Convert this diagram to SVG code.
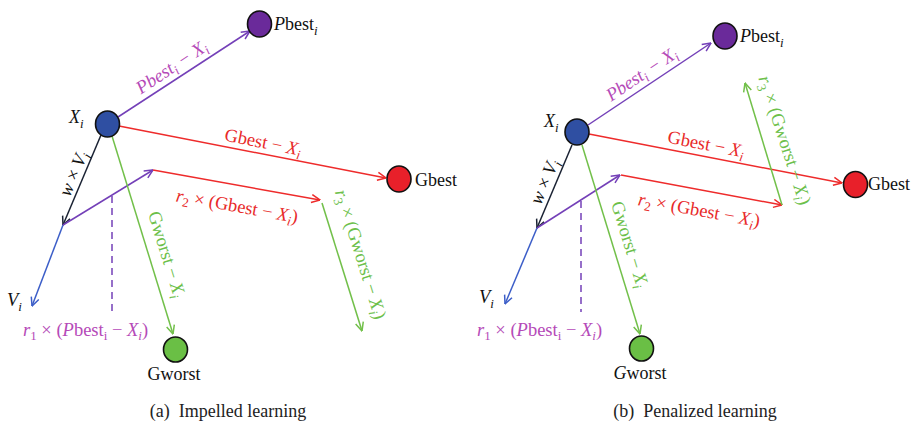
<svg xmlns="http://www.w3.org/2000/svg" width="912" height="425" viewBox="0 0 912 425">
<style>
text{font-family:"Liberation Serif","Times New Roman",serif;font-size:18px;fill:#111}
.it{font-style:italic}
.lbl{font-size:18.5px}
.pl{fill:#b54ab8}
.rd{fill:#e82a2a}
.gn{fill:#6cc04a}
.cap{font-size:18px;fill:#222}
.node{stroke:#111;stroke-width:1.6}
.c{fill:none;stroke-width:1.5}
.cp{stroke:#7440b8}
.cr{stroke:#ee2b2b}
.cg{stroke:#72c04a}
.cb{stroke:#3c5ec8}
.ck{stroke:#1a2233}
.dash{stroke-dasharray:7,5}
</style>
<defs>
<marker id="ap" viewBox="0 0 10 10" refX="9.5" refY="5" markerWidth="10" markerHeight="10" markerUnits="userSpaceOnUse" orient="auto"><path d="M1,1 L9.5,5 L1,9" fill="none" stroke="#7440b8" stroke-width="1.5"/></marker>
<marker id="ar" viewBox="0 0 10 10" refX="9.5" refY="5" markerWidth="10" markerHeight="10" markerUnits="userSpaceOnUse" orient="auto"><path d="M1,1 L9.5,5 L1,9" fill="none" stroke="#ee2b2b" stroke-width="1.5"/></marker>
<marker id="ag" viewBox="0 0 10 10" refX="9.5" refY="5" markerWidth="10" markerHeight="10" markerUnits="userSpaceOnUse" orient="auto"><path d="M1,1 L9.5,5 L1,9" fill="none" stroke="#72c04a" stroke-width="1.5"/></marker>
<marker id="ab" viewBox="0 0 10 10" refX="9.5" refY="5" markerWidth="10" markerHeight="10" markerUnits="userSpaceOnUse" orient="auto"><path d="M1,1 L9.5,5 L1,9" fill="none" stroke="#3c5ec8" stroke-width="1.5"/></marker>
<marker id="ak" viewBox="0 0 10 10" refX="9.5" refY="5" markerWidth="10" markerHeight="10" markerUnits="userSpaceOnUse" orient="auto"><path d="M1,1 L9.5,5 L1,9" fill="none" stroke="#1a2233" stroke-width="1.5"/></marker>
</defs>

<g id="connectors">
  <!-- panel (a) -->
  <line class="c cp" x1="118" y1="117" x2="250" y2="31" marker-end="url(#ap)"/>
  <line class="c cr" x1="119" y1="126" x2="386" y2="178" marker-end="url(#ar)"/>
  <line class="c ck" x1="101" y1="135" x2="63" y2="225" marker-end="url(#ak)"/>
  <line class="c cb" x1="63" y1="225" x2="32" y2="306" marker-end="url(#ab)"/>
  <line class="c cp" x1="63" y1="225" x2="153" y2="170" marker-end="url(#ap)"/>
  <line class="c cr" x1="153" y1="170" x2="320" y2="200" marker-end="url(#ar)"/>
  <line class="c cg" x1="322" y1="203" x2="362" y2="331" marker-end="url(#ag)"/>
  <line class="c cg" x1="112" y1="136" x2="173" y2="334" marker-end="url(#ag)"/>
  <line class="c cp dash" x1="112" y1="196" x2="112" y2="312"/>
  <!-- panel (b) -->
  <line class="c cp" x1="588" y1="125" x2="711" y2="43" marker-end="url(#ap)"/>
  <line class="c cr" x1="589" y1="134" x2="842" y2="183" marker-end="url(#ar)"/>
  <line class="c ck" x1="572" y1="145" x2="537" y2="228" marker-end="url(#ak)"/>
  <line class="c cb" x1="537" y1="228" x2="505" y2="304" marker-end="url(#ab)"/>
  <line class="c cp" x1="537" y1="228" x2="620" y2="175" marker-end="url(#ap)"/>
  <line class="c cr" x1="621" y1="175" x2="782" y2="205" marker-end="url(#ar)"/>
  <line class="c cg" x1="782" y1="205" x2="745" y2="83" marker-end="url(#ag)"/>
  <line class="c cg" x1="582" y1="145" x2="640" y2="334" marker-end="url(#ag)"/>
  <line class="c cp dash" x1="581" y1="201" x2="581" y2="312"/>
</g>

<g id="labels">
  <!-- panel (a) -->
  <text class="lbl pl it" text-anchor="middle" transform="translate(175,72) rotate(-33.6)">Pbest<tspan dy="4" font-size="13">i</tspan><tspan dy="-4"> − X</tspan><tspan dy="4" font-size="13">i</tspan></text>
  <text class="lbl rd" text-anchor="middle" transform="translate(262,148) rotate(11.2)">Gbest − <tspan class="it">X</tspan><tspan class="it" dy="4" font-size="13">i</tspan></text>
  <text class="lbl rd" text-anchor="middle" transform="translate(236,212) rotate(10.1)"><tspan class="it">r</tspan><tspan dy="4" font-size="13">2</tspan><tspan dy="-4"> × (Gbest − </tspan><tspan class="it">X</tspan><tspan class="it" dy="4" font-size="13">i</tspan><tspan dy="-4">)</tspan></text>
  <text class="lbl" text-anchor="middle" transform="translate(79,176) rotate(-67)"><tspan class="it">w</tspan> × <tspan class="it">V</tspan><tspan class="it" dy="4" font-size="13">i</tspan></text>
  <text class="lbl gn" text-anchor="middle" transform="translate(161,256) rotate(72.9)">Gworst − <tspan class="it">X</tspan><tspan class="it" dy="4" font-size="13">i</tspan></text>
  <text class="lbl gn" text-anchor="middle" transform="translate(355,256) rotate(72.6)"><tspan class="it">r</tspan><tspan dy="4" font-size="13">3</tspan><tspan dy="-4"> × (Gworst − </tspan><tspan class="it">X</tspan><tspan class="it" dy="4" font-size="13">i</tspan><tspan dy="-4">)</tspan></text>
  <text class="lbl pl" x="23" y="336"><tspan class="it">r</tspan><tspan dy="4" font-size="13">1</tspan><tspan dy="-4"> × (</tspan><tspan class="it">P</tspan>best<tspan dy="4" font-size="13">i</tspan><tspan dy="-4"> − </tspan><tspan class="it">X</tspan><tspan class="it" dy="4" font-size="13">i</tspan><tspan dy="-4">)</tspan></text>
  <text class="lbl it" x="7" y="306">V<tspan dy="5" font-size="13">i</tspan></text>
  <!-- panel (b) -->
  <text class="lbl pl it" text-anchor="middle" transform="translate(645,79) rotate(-33.9)">Pbest<tspan dy="4" font-size="13">i</tspan><tspan dy="-4"> − X</tspan><tspan dy="4" font-size="13">i</tspan></text>
  <text class="lbl rd" text-anchor="middle" transform="translate(705,150) rotate(11)">Gbest − <tspan class="it">X</tspan><tspan class="it" dy="4" font-size="13">i</tspan></text>
  <text class="lbl rd" text-anchor="middle" transform="translate(698,216) rotate(10.2)"><tspan class="it">r</tspan><tspan dy="4" font-size="13">2</tspan><tspan dy="-4"> × (Gbest − </tspan><tspan class="it">X</tspan><tspan class="it" dy="4" font-size="13">i</tspan><tspan dy="-4">)</tspan></text>
  <text class="lbl" text-anchor="middle" transform="translate(550,184) rotate(-67)"><tspan class="it">w</tspan> × <tspan class="it">V</tspan><tspan class="it" dy="4" font-size="13">i</tspan></text>
  <text class="lbl gn" text-anchor="middle" transform="translate(624,246) rotate(73)">Gworst − <tspan class="it">X</tspan><tspan class="it" dy="4" font-size="13">i</tspan></text>
  <text class="lbl gn" text-anchor="middle" transform="translate(779,142) rotate(72)"><tspan class="it">r</tspan><tspan dy="4" font-size="13">3</tspan><tspan dy="-4"> × (Gworst − </tspan><tspan class="it">X</tspan><tspan class="it" dy="4" font-size="13">i</tspan><tspan dy="-4">)</tspan></text>
  <text class="lbl pl" x="477" y="336"><tspan class="it">r</tspan><tspan dy="4" font-size="13">1</tspan><tspan dy="-4"> × (</tspan><tspan class="it">P</tspan>best<tspan dy="4" font-size="13">i</tspan><tspan dy="-4"> − </tspan><tspan class="it">X</tspan><tspan class="it" dy="4" font-size="13">i</tspan><tspan dy="-4">)</tspan></text>
  <text class="lbl it" x="479" y="303">V<tspan dy="5" font-size="13">i</tspan></text>
</g>

<g id="a-Xi"><ellipse class="node" cx="107.5" cy="124" rx="12" ry="13" fill="#2f4fa2"/><text class="it" x="69" y="123" font-size="19">X<tspan dy="5" font-size="13">i</tspan></text></g>
<g id="a-Pbest"><ellipse class="node" cx="259.5" cy="24" rx="12" ry="13" fill="#6a2a9a"/><text x="274" y="30"><tspan class="it">P</tspan>best<tspan class="it" dy="5" font-size="13">i</tspan></text></g>
<g id="a-Gbest"><ellipse class="node" cx="399" cy="179" rx="12" ry="13" fill="#e8202a"/><text x="415" y="186">Gbest</text></g>
<g id="a-Gworst"><ellipse class="node" cx="175.5" cy="349.5" rx="12" ry="12.5" fill="#6abf45"/><text x="174" y="380" text-anchor="middle">Gworst</text></g>

<g id="b-Xi"><ellipse class="node" cx="577" cy="132" rx="12" ry="13" fill="#2f4fa2"/><text class="it" x="544" y="127" font-size="19">X<tspan dy="5" font-size="13">i</tspan></text></g>
<g id="b-Pbest"><ellipse class="node" cx="725" cy="36" rx="12" ry="13" fill="#6a2a9a"/><text x="740" y="42"><tspan class="it">P</tspan>best<tspan class="it" dy="5" font-size="13">i</tspan></text></g>
<g id="b-Gbest"><ellipse class="node" cx="855.5" cy="184.5" rx="12" ry="13" fill="#e8202a"/><text x="868" y="190">Gbest</text></g>
<g id="b-Gworst"><ellipse class="node" cx="641.5" cy="348.5" rx="12" ry="12.5" fill="#6abf45"/><text x="640" y="379" text-anchor="middle"><tspan class="it">G</tspan>worst</text></g>

<text class="cap" x="228" y="417" text-anchor="middle" xml:space="preserve">(a)  Impelled learning</text>
<text class="cap" x="695" y="417" text-anchor="middle" xml:space="preserve">(b)  Penalized learning</text>
</svg>
